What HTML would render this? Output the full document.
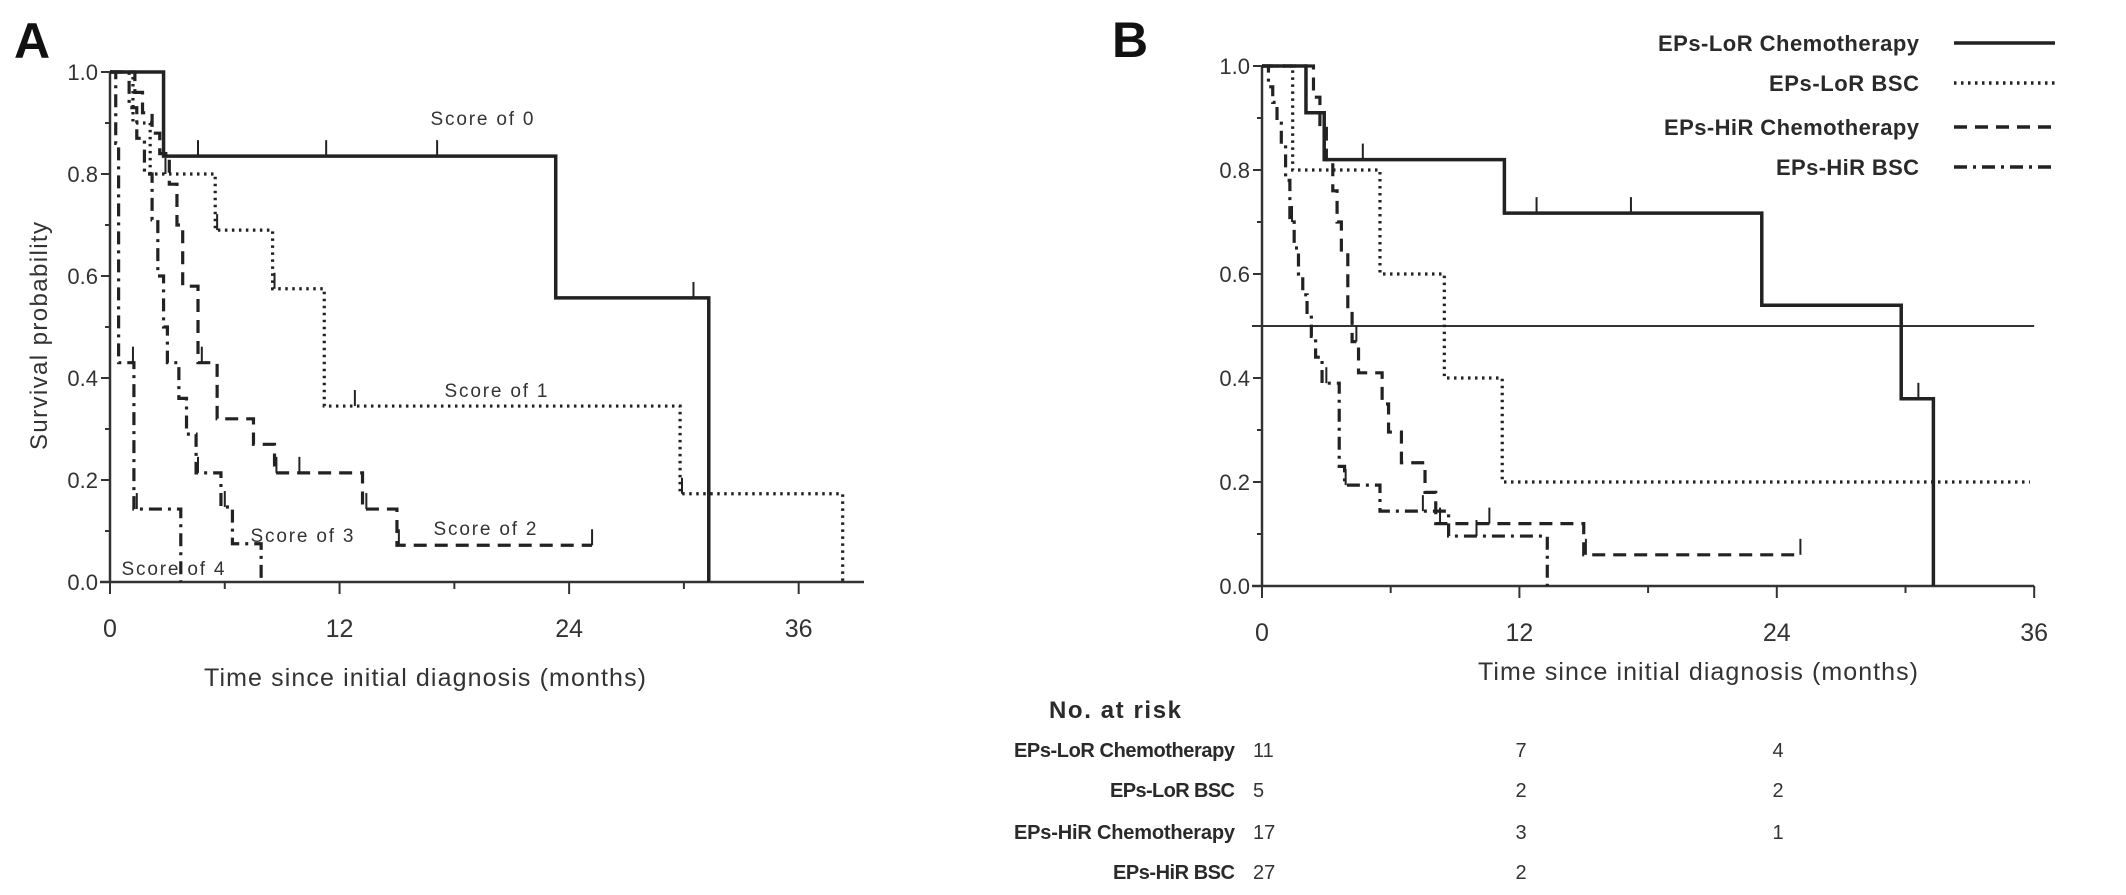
<!DOCTYPE html>
<html><head><meta charset="utf-8">
<style>
html,body{margin:0;padding:0;background:#fff;}
svg{display:block;font-family:"Liberation Sans",Arial,sans-serif;}
</style></head>
<body>
<svg id="fig" width="2126" height="895" viewBox="0 0 2126 895" xmlns="http://www.w3.org/2000/svg">
  <text x="14" y="58" font-size="50" font-weight="bold" fill="#111">A</text>
  <text x="1112" y="57" font-size="50" font-weight="bold" fill="#111">B</text>
  <g id="panelA"></g>
  <g id="panelB"></g>
  <g id="legend"></g>
  <g id="risk"></g>
</svg>
<script>
// ---------- Data ----------
const xTicks = [0, 12, 24, 36];
const yTicks = [0.0, 0.2, 0.4, 0.6, 0.8, 1.0];
const yTickLabels = ["0.0", "0.2", "0.4", "0.6", "0.8", "1.0"];

// Panel A series (time in months, survival)
const a0Times = [0, 2.8, 23.3, 31.3];
const a0Surv = [1, 0.835, 0.557, 0];
const a0Censor = [4.6, 11.3, 17.1, 30.5];
const a0End = 31.3;
const a1Times = [0, 1.2, 2.1, 5.5, 8.5, 11.2, 29.8, 38.3];
const a1Surv = [1, 0.9, 0.8, 0.69, 0.575, 0.345, 0.173, 0];
const a1Censor = [2.9, 5.6, 8.6, 12.8, 29.9];
const a1End = 38.3;
const a2Times = [0, 1.3, 1.7, 2.2, 2.6, 3.1, 3.5, 3.8, 4.6, 5.6, 7.5, 8.6, 13.2, 15.0];
const a2Surv = [1, 0.96, 0.92, 0.88, 0.84, 0.78, 0.7, 0.58, 0.43, 0.32, 0.27, 0.214, 0.143, 0.072];
const a2Censor = [4.8, 8.7, 9.9, 13.4, 15.1, 25.2];
const a2End = 25.2;
const a3Times = [0, 1.0, 1.4, 1.8, 2.2, 2.5, 2.8, 3.0, 3.6, 4.0, 4.5, 5.8, 6.4, 7.9];
const a3Surv = [1, 0.93, 0.87, 0.8, 0.71, 0.6, 0.5, 0.43, 0.36, 0.29, 0.214, 0.147, 0.075, 0];
const a3Censor = [4.6, 6.0];
const a3End = 7.9;
const a4Times = [0, 0.3, 0.45, 1.25, 3.7];
const a4Surv = [1, 0.86, 0.43, 0.143, 0];
const a4Censor = [1.2, 1.4];
const a4End = 3.7;

// Panel B series
const bLoRChemoTimes = [0, 2.05, 2.9, 11.3, 23.3, 29.8, 31.3];
const bLoRChemoSurv = [1, 0.91, 0.82, 0.717, 0.54, 0.36, 0];
const bLoRChemoCensor = [4.7, 12.8, 17.2, 30.6];
const bLoRChemoEnd = 31.3;
const bLoRBscTimes = [0, 1.43, 5.5, 8.5, 11.2];
const bLoRBscSurv = [1, 0.8, 0.6, 0.4, 0.2];
const bLoRBscCensor = [];
const bLoRBscEnd = 35.8;
const bHiRChemoTimes = [0, 2.4, 2.7, 3.0, 3.3, 3.5, 3.7, 4.0, 4.2, 4.5, 5.6, 5.9, 6.5, 7.6, 8.1, 15.0];
const bHiRChemoSurv = [1, 0.94, 0.88, 0.82, 0.76, 0.7, 0.64, 0.53, 0.47, 0.41, 0.35, 0.296, 0.237, 0.18, 0.12, 0.06];
const bHiRChemoCensor = [2.9, 4.4, 8.3, 10.6, 15.1, 25.1];
const bHiRChemoEnd = 25.1;
const bHiRBscTimes = [0, 0.3, 0.5, 0.7, 0.9, 1.1, 1.3, 1.5, 1.7, 1.9, 2.1, 2.3, 2.5, 2.8, 3.6, 3.85, 5.5, 8.7, 13.3];
const bHiRBscSurv = [1, 0.96, 0.93, 0.89, 0.85, 0.78, 0.7, 0.65, 0.6, 0.56, 0.52, 0.48, 0.44, 0.39, 0.23, 0.194, 0.144, 0.096, 0];
const bHiRBscCensor = [1.4, 3.0, 3.9, 7.5, 10.0];
const bHiRBscEnd = 13.3;
const bMedianRef = 0.5;

// Risk table
const riskGroups = ["EPs-LoR Chemotherapy", "EPs-LoR BSC", "EPs-HiR Chemotherapy", "EPs-HiR BSC"];
const riskAt0 = ["11", "5", "17", "27"];
const riskAt12 = ["7", "2", "3", "2"];
const riskAt24 = ["4", "2", "1", ""];

// ---------- Helpers ----------
const NS = "http://www.w3.org/2000/svg";
function mk(tag, attrs, parent) {
  const e = document.createElementNS(NS, tag);
  for (const k in attrs) e.setAttribute(k, attrs[k]);
  if (parent) parent.appendChild(e);
  return e;
}
function survAt(times, surv, t) {
  let s = surv[0];
  for (let i = 0; i < times.length; i++) if (times[i] <= t) s = surv[i];
  return s;
}
const DASH = { solid: "none", dot: "2.5 4.5", dash: "13 8", dashdot: "13 6 3 6" };
const INK = "#222";

function drawAxes(g, X, Y, x0, xEnd, y0, y1, minorX) {
  // y axis
  const ya = mk("line", { x1: x0, y1: y0, x2: x0, y2: y1, stroke: "#333", "stroke-width": 2.5 }, g);
  
  
  for (let v = 0; v <= 10; v++) {
    const yy = Y(v / 10);
    const t = mk("line", { x1: x0 - (v % 2 === 0 ? 9 : 5), y1: yy, x2: x0, y2: yy, stroke: "#333", "stroke-width": 2 }, g);
    
    
  }
  yTicks.forEach((v, i) => {
    const t = mk("text", { x: x0 - 12, y: Y(v) + 8, "font-size": 22, fill: "#333", "text-anchor": "end" }, g);
    t.textContent = yTickLabels[i];
    
    
  });
  // x axis
  const xa = mk("line", { x1: x0 - 10, y1: y0, x2: xEnd, y2: y0, stroke: "#333", "stroke-width": 2.5 }, g);
  
  
  for (let m = 0; m <= 36; m += 6) {
    const major = m % 12 === 0;
    const t = mk("line", { x1: X(m), y1: y0, x2: X(m), y2: y0 + (major ? 12 : 7), stroke: "#333", "stroke-width": 2 }, g);
    
    
  }
  xTicks.forEach(v => {
    const t = mk("text", { x: X(v), y: y0 + 55, "font-size": 25, fill: "#333", "text-anchor": "middle" }, g);
    t.textContent = String(v);
    
    
  });
}

function drawKM(g, X, Y, times, surv, censor, end, style, name) {
  let d = "M" + X(times[0]) + " " + Y(surv[0]);
  for (let i = 1; i < times.length; i++) {
    d += " H" + X(times[i]) + " V" + Y(surv[i]);
  }
  d += " H" + X(end);
  const p = mk("path", { d: d, fill: "none", stroke: INK, "stroke-width": style === "solid" ? 3.5 : 3.2, "stroke-dasharray": DASH[style] }, g);
  
  
  censor.forEach(c => {
    const yy = Y(survAt(times, surv, c));
    const t = mk("line", { x1: X(c), y1: yy, x2: X(c), y2: yy - 16, stroke: INK, "stroke-width": 2 }, g);
    
    
  });
}

function label(g, txt, x, y, size, opts, name) {
  const t = mk("text", Object.assign({ x: x, y: y, "font-size": size, fill: "#333" }, opts || {}), g);
  t.textContent = txt;
  
  
  return t;
}

// ---------- Panel A ----------
(function () {
  const g = document.getElementById("panelA");
  const x0 = 110, pxm = 19.13, y0 = 582, yTop = 72;
  const X = m => x0 + m * pxm;
  const Y = s => y0 - s * (y0 - yTop);
  drawAxes(g, X, Y, x0, 864, y0, yTop);
  drawKM(g, X, Y, a0Times, a0Surv, a0Censor, a0End, "solid", "curve-score-0");
  drawKM(g, X, Y, a1Times, a1Surv, a1Censor, a1End, "dot", "curve-score-1");
  drawKM(g, X, Y, a2Times, a2Surv, a2Censor, a2End, "dash", "curve-score-2");
  drawKM(g, X, Y, a3Times, a3Surv, a3Censor, a3End, "dashdot", "curve-score-3");
  drawKM(g, X, Y, a4Times, a4Surv, a4Censor, a4End, "dashdot", "curve-score-4");
  label(g, "Score of 0", 482, 125, 19, { "text-anchor": "middle", textLength: 103 }, "annotation-score-0");
  label(g, "Score of 1", 496, 397, 19, { "text-anchor": "middle", textLength: 103 }, "annotation-score-1");
  label(g, "Score of 2", 485, 535, 19, { "text-anchor": "middle", textLength: 103 }, "annotation-score-2");
  label(g, "Score of 3", 302, 542, 19, { "text-anchor": "middle", textLength: 103 }, "annotation-score-3");
  label(g, "Score of 4", 173, 575, 19, { "text-anchor": "middle", textLength: 103 }, "annotation-score-4");
  label(g, "Time since initial diagnosis (months)", 425, 686, 25, { "text-anchor": "middle", textLength: 442 }, "x-axis-title");
  label(g, "Survival probability", 0, 0, 24, { "text-anchor": "middle", textLength: 228, transform: "translate(47,336) rotate(-90)" }, "y-axis-title");
})();

// ---------- Panel B ----------
(function () {
  const g = document.getElementById("panelB");
  const x0 = 1262, pxm = 21.45, y0 = 586, yTop = 66;
  const X = m => x0 + m * pxm;
  const Y = s => y0 - s * (y0 - yTop);
  drawAxes(g, X, Y, x0, X(36), y0, yTop);
  const ref = mk("line", { x1: x0 - 10, y1: Y(bMedianRef), x2: X(36), y2: Y(bMedianRef), stroke: "#333", "stroke-width": 2 }, g);
  
  
  drawKM(g, X, Y, bLoRChemoTimes, bLoRChemoSurv, bLoRChemoCensor, bLoRChemoEnd, "solid", "curve-lor-chemotherapy");
  drawKM(g, X, Y, bLoRBscTimes, bLoRBscSurv, bLoRBscCensor, bLoRBscEnd, "dot", "curve-lor-bsc");
  drawKM(g, X, Y, bHiRChemoTimes, bHiRChemoSurv, bHiRChemoCensor, bHiRChemoEnd, "dash", "curve-hir-chemotherapy");
  drawKM(g, X, Y, bHiRBscTimes, bHiRBscSurv, bHiRBscCensor, bHiRBscEnd, "dashdot", "curve-hir-bsc");
  label(g, "Time since initial diagnosis (months)", 1698, 680, 25, { "text-anchor": "middle", textLength: 440 }, "x-axis-title-b");
})();

// ---------- Legend ----------
(function () {
  const g = document.getElementById("legend");
  const styles = ["solid", "dot", "dash", "dashdot"];
  const rowsY = [43, 83, 127, 167];
  const widths = [261, 150, 255, 143];
  riskGroups.forEach((nm, i) => {
    const row = mk("g", {}, g);
    
    
    label(row, nm, 1919, rowsY[i] + 8, 22, { "text-anchor": "end", "font-weight": "bold", textLength: widths[i], fill: "#2a2a2a" }, "legend-label");
    const ln = mk("line", { x1: 1954, y1: rowsY[i], x2: 2055, y2: rowsY[i], stroke: INK, "stroke-width": 3.5, "stroke-dasharray": DASH[styles[i]] }, row);
    
    
  });
})();

// ---------- Risk table ----------
(function () {
  const g = document.getElementById("risk");
  label(g, "No. at risk", 1049, 718, 24, { "font-weight": "bold", textLength: 132, fill: "#2a2a2a" }, "risk-table-title");
  const rowsY = [750, 790, 832, 872];
  const widths = [221, 125, 221, 122];
  riskGroups.forEach((nm, i) => {
    label(g, nm, 1235, rowsY[i] + 7, 20, { "text-anchor": "end", "font-weight": "bold", textLength: widths[i], fill: "#2a2a2a" }, "risk-row-label");
    label(g, riskAt0[i], 1253, rowsY[i] + 7, 20, {}, "risk-count-month-0");
    if (riskAt12[i]) label(g, riskAt12[i], 1521, rowsY[i] + 7, 20, { "text-anchor": "middle" }, "risk-count-month-12");
    if (riskAt24[i]) label(g, riskAt24[i], 1778, rowsY[i] + 7, 20, { "text-anchor": "middle" }, "risk-count-month-24");
  });
})();
</script>
</body></html>
